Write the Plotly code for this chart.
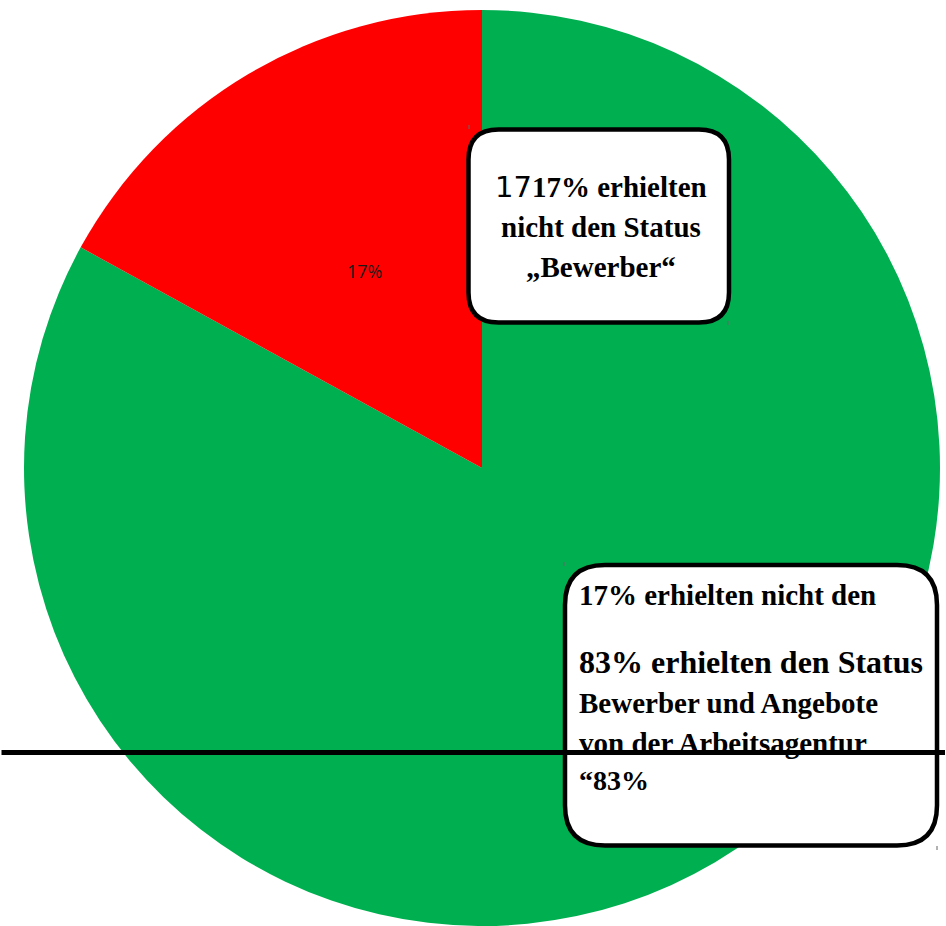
import plotly.graph_objects as go

W, H = 946, 926

# ---- data ----
labels = ["Status Bewerber", "nicht den Status „Bewerber“"]
values = [83, 17]
colors = ["#00B050", "#FF0000"]
slice_label = "17%"

box1_prefix = "17"
box1_lines = ["17% erhielten", "nicht den Status", "„Bewerber“"]
box1_sizes = [29, 29, 29]
box1_baselines = [197, 237, 277]

box2_lines = ["17% erhielten nicht den", "83% erhielten den Status",
              "Bewerber und Angebote", "von der Arbeitsagentur", "“83%"]
box2_sizes = [29, 32, 29, 29, 28]
box2_baselines = [605, 673, 713, 753, 790]


def px(x):
    return x / W


def py(y):
    return 1 - y / H


def rrect(x0, y0, x1, y1, r):
    pts = [
        ("M", x0 + r, y0), ("L", x1 - r, y0), ("Q", x1, y0, x1, y0 + r),
        ("L", x1, y1 - r), ("Q", x1, y1, x1 - r, y1), ("L", x0 + r, y1),
        ("Q", x0, y1, x0, y1 - r), ("L", x0, y0 + r), ("Q", x0, y0, x0 + r, y0),
    ]
    s = ""
    for p in pts:
        if p[0] == "Q":
            s += f"Q{px(p[1]):.5f},{py(p[2]):.5f} {px(p[3]):.5f},{py(p[4]):.5f} "
        else:
            s += f"{p[0]}{px(p[1]):.5f},{py(p[2]):.5f} "
    return s + "Z"


fig = go.Figure()
fig.add_trace(go.Pie(
    labels=labels, values=values, sort=False, direction="counterclockwise",
    rotation=0, marker=dict(colors=colors, line=dict(width=0)),
    textinfo="none", hoverinfo="label+percent", showlegend=False,
    domain=dict(x=[24 / W, 940 / W], y=[0, 916 / H]),
))

shapes = []
shapes.append(dict(type="path", path=rrect(468.5, 129.5, 729, 322.5, 30),
                   xref="paper", yref="paper", fillcolor="white",
                   line=dict(color="black", width=4.5), layer="above"))
shapes.append(dict(type="path", path=rrect(565, 565, 937, 845.5, 40),
                   xref="paper", yref="paper", fillcolor="white",
                   line=dict(color="black", width=4.5), layer="above"))
for (tx, ty) in [(469, 127), (728, 323), (564, 564), (937, 848)]:
    shapes.append(dict(type="line", xref="paper", yref="paper",
                       x0=px(tx), x1=px(tx), y0=py(ty - 2), y1=py(ty + 2),
                       line=dict(color="#666", width=1), layer="above"))

ann = []
ann.append(dict(x=px(364), y=py(271), xref="paper", yref="paper", text=slice_label,
                showarrow=False, xanchor="center", yanchor="middle",
                font=dict(family="Open Sans", size=18, color="#1a1a1a")))

for i, (t, s, b) in enumerate(zip(box1_lines, box1_sizes, box1_baselines)):
    if i == 0:
        t = (f"<span style=\"font-family:'DejaVu Sans';font-weight:normal\">{box1_prefix}</span>"
             + t)
    ann.append(dict(x=px(601), y=py(b - 0.3375 * s), xref="paper", yref="paper",
                    text=t, showarrow=False, xanchor="center", yanchor="middle",
                    font=dict(family="Liberation Serif", size=s, color="black", weight="bold")))

for t, s, b in zip(box2_lines, box2_sizes, box2_baselines):
    ann.append(dict(x=px(577), y=py(b - 0.3375 * s), xref="paper", yref="paper",
                    text=t, showarrow=False, xanchor="left", yanchor="middle",
                    font=dict(family="Liberation Serif", size=s, color="black", weight="bold")))

# horizontal rule drawn over the text
ann.append(dict(x=1, y=py(752.5), xref="paper", yref="paper", text="",
                showarrow=True, ax=-960, ay=0, arrowhead=0, arrowwidth=5,
                arrowcolor="black", standoff=0, startstandoff=0))

fig.update_layout(
    width=W, height=H, margin=dict(l=0, r=0, t=0, b=0),
    paper_bgcolor="white", plot_bgcolor="white",
    shapes=shapes, annotations=ann,
)
fig.write_html("out.html")
